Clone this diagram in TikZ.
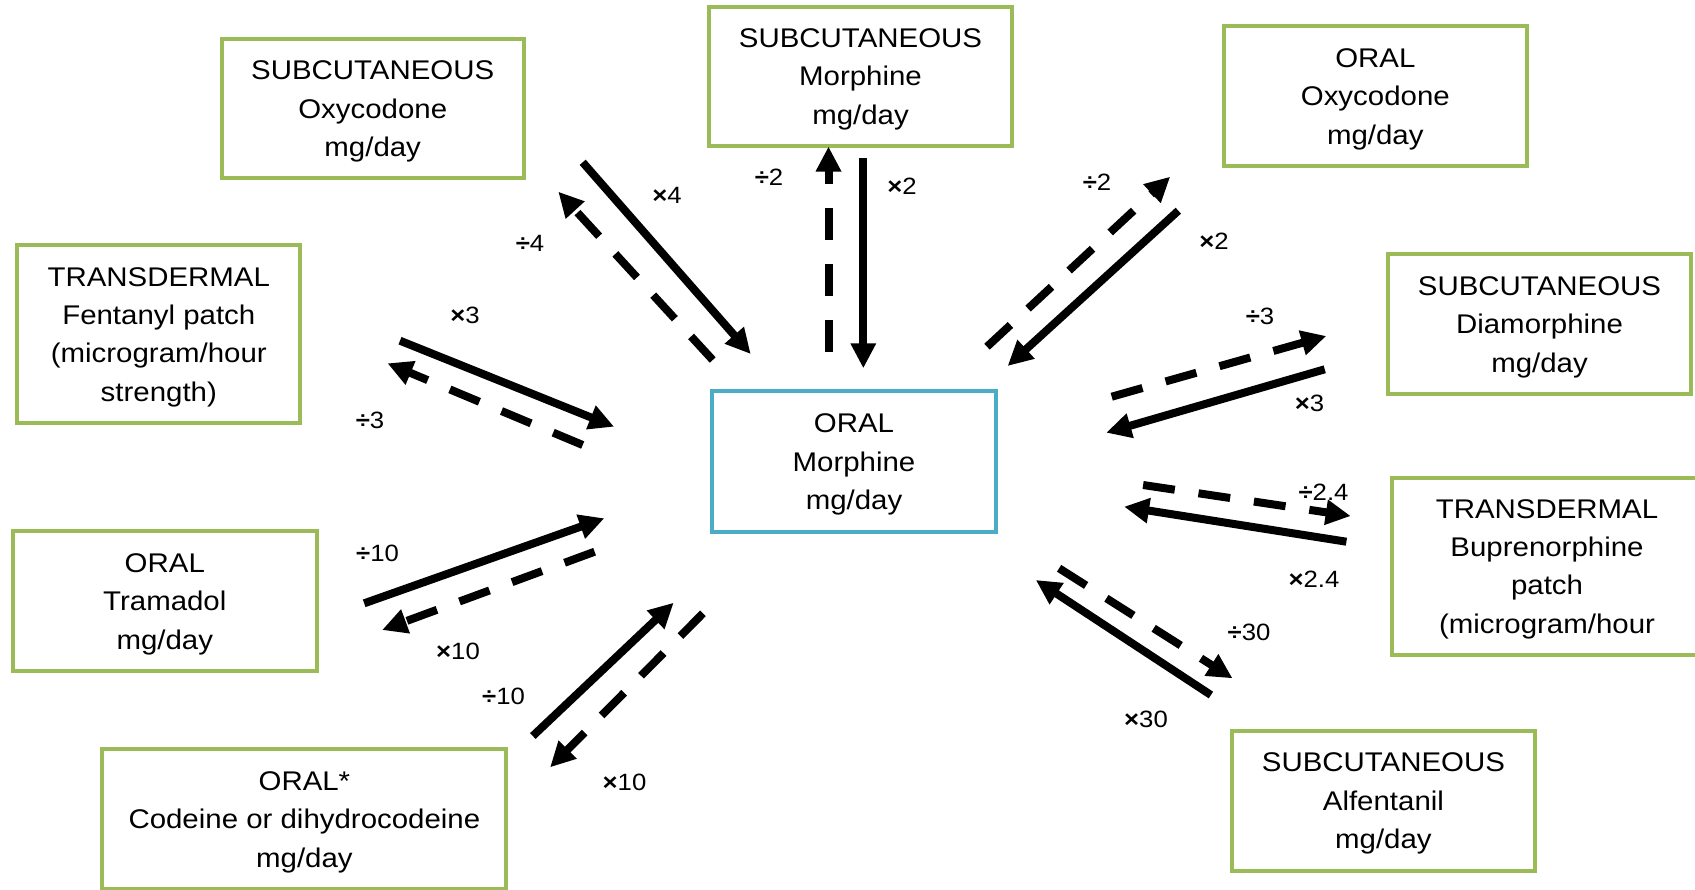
\documentclass[tikz,border=0pt]{standalone}
\usepackage{fontspec}
\setmainfont{Liberation Sans}[FakeStretch=1.09]
\usetikzlibrary{arrows.meta}
\definecolor{boxgreen}{HTML}{9BBB59}
\definecolor{boxblue}{HTML}{4BACC6}
\newcommand\tstrut{\rule{0pt}{12.2pt}}
\begin{document}
\begin{tikzpicture}[x=0.5pt,y=-0.5pt,
  box/.style={draw=boxgreen, line width=2pt, align=center, inner sep=0pt,
    font=\fontsize{13.5}{19.2}\selectfont, minimum width=151.5pt, minimum height=70pt},
  conv/.style={line width=4pt, -{Triangle[length=12.5pt,width=12pt]}},
  dconv/.style={conv, dash pattern=on 16pt off 12pt},
  lbl/.style={font=\fontsize{11.8}{14}\selectfont, inner sep=0pt}]
\useasboundingbox[fill=white] (0,0) rectangle (1695,889);

% boxes
\node[box, minimum width=151pt, minimum height=69.5pt] (sco) at (372.7,108.7) {\tstrut SUBCUTANEOUS\\Oxycodone\\mg/day};
\node[box, minimum height=69.5pt] (scm) at (860.5,76.3) {\tstrut SUBCUTANEOUS\\Morphine\\mg/day};
\node[box] (oo) at (1375.3,96.3) {\tstrut ORAL\\Oxycodone\\mg/day};
\node[box, minimum width=141.5pt, minimum height=89pt] (tf) at (158.8,334.3) {\tstrut TRANSDERMAL\\Fentanyl patch\\(microgram/hour\\strength)};
\node[box] (scd) at (1539.5,324.2) {\tstrut SUBCUTANEOUS\\Diamorphine\\mg/day};
\node[box, draw=boxblue, minimum width=142pt, minimum height=70.5pt] (om) at (854,461.7) {\tstrut ORAL\\Morphine\\mg/day};
\node[box, minimum width=152pt] (ot) at (164.8,601.2) {\tstrut ORAL\\Tramadol\\mg/day};
\node[box, minimum width=155.5pt, minimum height=88.5pt] (tb) at (1547,566.2) {\tstrut TRANSDERMAL\\Buprenorphine\\patch\\(microgram/hour};
\node[box, minimum width=202pt] (oc) at (304.4,819.3) {\tstrut ORAL*\\Codeine or dihydrocodeine\\mg/day};
\node[box] (sca) at (1383.4,800.7) {\tstrut SUBCUTANEOUS\\Alfentanil\\mg/day};

% arrow end points
\coordinate (a1) at (582.7,162.3);  \coordinate (a2) at (750.7,354);
\coordinate (a3) at (712.7,360);    \coordinate (a4) at (558.3,191.7);
\coordinate (b1) at (828.5,351.7);  \coordinate (b2) at (828.5,146.5);
\coordinate (b3) at (863.3,158.3);  \coordinate (b4) at (863.3,368.3);
\coordinate (c1) at (987,346.7);    \coordinate (c2) at (1170.2,176.7);
\coordinate (c3) at (1178.3,210.7); \coordinate (c4) at (1007.6,366);
\coordinate (d1) at (1111.7,396.7); \coordinate (d2) at (1326.3,336);
\coordinate (d3) at (1324.7,369.3); \coordinate (d4) at (1106.2,432.7);
\coordinate (e1) at (1143.1,485);   \coordinate (e2) at (1350.7,516);
\coordinate (e3) at (1346.4,541.7); \coordinate (e4) at (1124.1,506.7);
\coordinate (f1) at (1059.1,568.3); \coordinate (f2) at (1232.5,678.3);
\coordinate (f3) at (1210.9,695);   \coordinate (f4) at (1035.8,580);
\coordinate (g1) at (364.2,603.3);  \coordinate (g2) at (604.3,518.3);
\coordinate (g3) at (594.6,551.7);  \coordinate (g4) at (382.1,630);
\coordinate (h1) at (532.8,736);    \coordinate (h2) at (673.7,602.7);
\coordinate (h3) at (703,613.3);    \coordinate (h4) at (550.1,767.3);
\coordinate (i1) at (400,340.7);    \coordinate (i2) at (614.1,426.7);
\coordinate (i3) at (582.7,445);    \coordinate (i4) at (387.5,363.3);

% arrows
\draw[conv]  (a1) -- (a2);
\draw[dconv] (a3) -- (a4);
\draw[dconv] (b1) -- (b2);
\draw[conv]  (b3) -- (b4);
\draw[dconv] (c1) -- (c2);
\draw[conv]  (c3) -- (c4);
\draw[dconv] (d1) -- (d2);
\draw[conv]  (d3) -- (d4);
\draw[dconv] (e1) -- (e2);
\draw[conv]  (e3) -- (e4);
\draw[dconv] (f1) -- (f2);
\draw[conv]  (f3) -- (f4);
\draw[conv]  (g1) -- (g2);
\draw[dconv] (g3) -- (g4);
\draw[conv]  (h1) -- (h2);
\draw[dconv] (h3) -- (h4);
\draw[conv]  (i1) -- (i2);
\draw[dconv] (i3) -- (i4);

% labels
\node[lbl] (la1) at (667,195) {{\bfseries ×}4};
\node[lbl] (la2) at (530,243) {{\bfseries ÷}4};
\node[lbl] (lb1) at (769,177.5) {{\bfseries ÷}2};
\node[lbl] (lb2) at (902,186) {{\bfseries ×}2};
\node[lbl] (lc1) at (1097,182.7) {{\bfseries ÷}2};
\node[lbl] (lc2) at (1214,241.5) {{\bfseries ×}2};
\node[lbl] (ld1) at (1260,316) {{\bfseries ÷}3};
\node[lbl] (ld2) at (1309.5,403) {{\bfseries ×}3};
\node[lbl] (le1) at (1323.5,492.5) {{\bfseries ÷}2.4};
\node[lbl] (le2) at (1314,579) {{\bfseries ×}2.4};
\node[lbl] (lf1) at (1249,632.5) {{\bfseries ÷}30};
\node[lbl] (lf2) at (1146,719) {{\bfseries ×}30};
\node[lbl] (lg1) at (377.5,553) {{\bfseries ÷}10};
\node[lbl] (lg2) at (458,651.5) {{\bfseries ×}10};
\node[lbl] (lh1) at (503.5,696) {{\bfseries ÷}10};
\node[lbl] (lh2) at (624.5,782.5) {{\bfseries ×}10};
\node[lbl] (li1) at (465,315) {{\bfseries ×}3};
\node[lbl] (li2) at (370,420.5) {{\bfseries ÷}3};
\end{tikzpicture}
\end{document}
